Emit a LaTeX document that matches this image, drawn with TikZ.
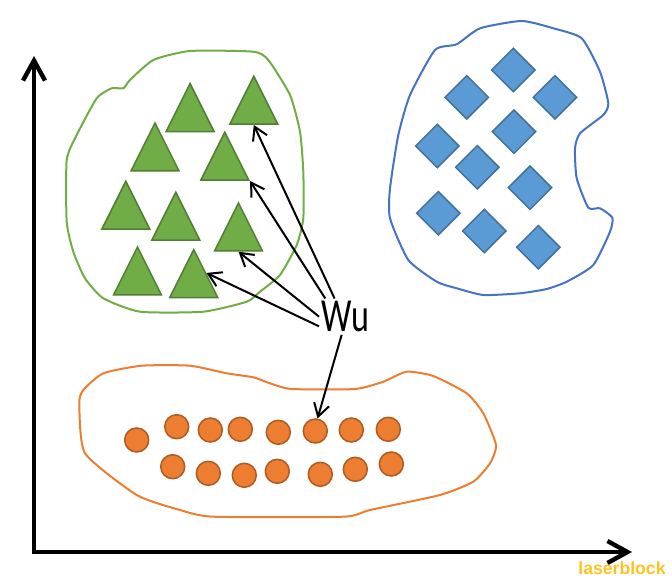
\documentclass[tikz,border=0pt]{standalone}
\usepackage{fontspec}
\newfontfamily\wufont{Carlito}
\newfontfamily\markfont{Liberation Sans}
\usetikzlibrary{shapes.geometric, arrows.meta}

\definecolor{leafgreen}{HTML}{70AD47}
\definecolor{leafedge}{HTML}{507E32}
\definecolor{skyblue}{HTML}{5B9BD5}
\definecolor{skyedge}{HTML}{41719C}
\definecolor{blobblue}{HTML}{4472C4}
\definecolor{dotorange}{HTML}{ED7D31}
\definecolor{dotedge}{HTML}{AE5A21}
\definecolor{markgold}{HTML}{FFC21F}

\begin{document}
\begin{tikzpicture}[
				x=0.5pt, y=-0.5pt,
				>={Straight Barb[length=6.4pt, width=7.7pt]},
				tri/.style={isosceles triangle, isosceles triangle stretches, shape border rotate=90, draw=leafedge, fill=leafgreen, line width=0.75pt, minimum width=24pt, minimum height=24pt, inner sep=0pt},
				dia/.style={diamond, draw=skyedge, fill=skyblue, line width=0.75pt, minimum width=22pt, minimum height=22pt, inner sep=0pt},
				dot/.style={circle, draw=dotedge, fill=dotorange, line width=0.75pt, minimum size=12pt, inner sep=0pt},
				blob/.style={line width=1pt, smooth cycle, tension=0.35},
				arr/.style={->, line width=1pt},
				axis/.style={<->, line width=2.2pt, >={Straight Barb[length=10pt, width=11pt]}}
			]

			\useasboundingbox (0,0) rectangle (672,581);

			% axes
			\coordinate (origin) at (34,552);
			\coordinate (ytip) at (34,56);
			\coordinate (xtip) at (632,552);
			\draw[axis] (ytip) -- (origin) -- (xtip);

			% green cluster
			\draw[blob, leafgreen] plot coordinates {(190,51) (253.3,51.7) (268.3,60) (290,95) (300,131.7) (303.3,171.7) (303.3,218.3) (296.7,245) (280,275) (260,291.7) (246.7,301.7) (203.3,311.7) (140,311.7) (103.3,298.3) (85,278.3) (73.3,251.7) (66.7,221.7) (66.7,160) (76.7,135) (96.7,98.3) (111.7,88.3) (123.3,88.3) (130,80) (153.3,60)};
			\node[tri, anchor=lower side] (t1) at (190.1,132.3) {};
			\node[tri, anchor=lower side] (t2) at (253.8,125) {};
			\node[tri, anchor=lower side] (t3) at (155,171.7) {};
			\node[tri, anchor=lower side] (t4) at (224.8,181) {};
			\node[tri, anchor=lower side] (t5) at (125.8,230) {};
			\node[tri, anchor=lower side] (t6) at (175.8,241) {};
			\node[tri, anchor=lower side] (t7) at (238.5,251.7) {};
			\node[tri, anchor=lower side] (t8) at (137.5,295.7) {};
			\node[tri, anchor=lower side] (t9) at (193.8,298.3) {};

			% blue cluster
			\draw[blob, blobblue] plot coordinates {(521.7,21) (553.3,28.3) (581.7,38.3) (600,71.7) (608.3,103.3) (603.3,115) (580,133.3) (575,148.3) (576.7,178.3) (588.3,207.7) (600,208.3) (612.3,217.7) (610,231.7) (593.3,265) (566.7,281.7) (546.7,289) (520,293.3) (483.3,295) (456.7,288.3) (436.7,281.7) (408.3,260) (390,218.3) (390,188.3) (398.3,135) (410,95) (435,50) (456.7,44.3) (480,28.3)};
			\node[dia] (d1) at (513.3,70) {};
			\node[dia] (d2) at (466.7,97.3) {};
			\node[dia] (d3) at (555,97.3) {};
			\node[dia] (d4) at (514,131.7) {};
			\node[dia] (d5) at (437.3,146) {};
			\node[dia] (d6) at (477.3,167.3) {};
			\node[dia] (d7) at (530,187.7) {};
			\node[dia] (d8) at (438.3,213.3) {};
			\node[dia] (d9) at (484.3,231) {};
			\node[dia] (d10) at (538.3,247.3) {};

			% orange cluster
			\draw[blob, dotorange] plot coordinates {(141.7,365.7) (190,365.7) (226.7,373.3) (253.3,377.3) (270,383.3) (291.7,389) (355,389) (383.3,381.7) (406.7,371.7) (433.3,376) (466.7,393.3) (483.3,413.3) (496,445) (490,463.3) (473.3,481.7) (440,495) (370,510) (343.3,516.7) (213.3,516.7) (180,510) (136.7,495) (85,453.3) (79.3,403.3) (83.3,390) (103.3,373.3)};
			\node[dot] (c1) at (136.7,440) {};
			\node[dot] (c2) at (176.7,426.7) {};
			\node[dot] (c3) at (210.3,430) {};
			\node[dot] (c4) at (240.3,429.3) {};
			\node[dot] (c5) at (278.3,432.3) {};
			\node[dot] (c6) at (315.3,431) {};
			\node[dot] (c7) at (351.3,430) {};
			\node[dot] (c8) at (388.3,429.3) {};
			\node[dot] (c9) at (172.7,466.7) {};
			\node[dot] (c10) at (208.3,473.3) {};
			\node[dot] (c11) at (244.3,475.3) {};
			\node[dot] (c12) at (277.3,471.3) {};
			\node[dot] (c13) at (320.3,474.3) {};
			\node[dot] (c14) at (355.3,469.3) {};
			\node[dot] (c15) at (391.3,464) {};

			% label and pointers
			\node[inner sep=1.2pt, font=\wufont\fontsize{23.7}{28}\selectfont] (wu) at (345.5,316.7) {\scalebox{0.72}[1]{Wu}};
			\draw[arr] (wu.121) -- (t2.lower side);
			\draw[arr] (wu.138) -- (t4.right corner);
			\draw[arr] (wu.180) -- (t7.lower side);
			\draw[arr] (wu.200) -- (t9.right side);
			\draw[arr] (wu.258) -- (c6.80);

			\node[anchor=base, text=markgold, font=\markfont\bfseries\fontsize{8.8}{10}\selectfont] (mark) at (622,574) {laserblock};

		\end{tikzpicture}
\end{document}
